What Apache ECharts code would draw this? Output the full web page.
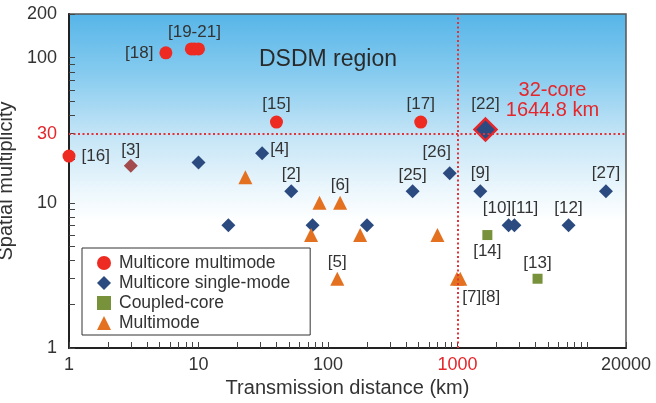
<!DOCTYPE html>
<html>
<head>
<meta charset="utf-8">
<script src="https://cdn.jsdelivr.net/npm/echarts@6/dist/echarts.min.js"></script>
<style>
  html, body { margin: 0; padding: 0; background: #fff; }
  #chart { width: 656px; height: 403px; }
</style>
</head>
<body>
<div id="chart"></div>
<script>
// [distance km, spatial multiplicity, reference]
const multicoreMultimode = [
  [1, 21, '[16]'],
  [5.6, 108, '[18]'],
  [8.8, 115, ''],
  [9.3, 115, '[19-21]'],
  [10, 115, ''],
  [40, 36, '[15]'],
  [520, 36, '[17]']
];
const multicoreSingleMode = [
  [3, 18, '[3]'],
  [10, 19, ''],
  [31, 22, '[4]'],
  [52, 12, '[2]'],
  [17, 7, ''],
  [76, 7, ''],
  [200, 7, ''],
  [450, 12, '[25]'],
  [870, 16, '[26]'],
  [1500, 12, '[9]'],
  [14000, 12, '[27]'],
  [2480, 7, '[10][11]'],
  [2750, 7, ''],
  [7200, 7, '[12]'],
  [1644.8, 32, '[22]']
];
const coupledCore = [
  [1700, 6, '[14]'],
  [4150, 3, '[13]']
];
const multimode = [
  [23, 15, ''],
  [86, 10, ''],
  [124, 10, '[6]'],
  [74, 6, ''],
  [177, 6, ''],
  [700, 6, ''],
  [118, 3, '[5]'],
  [990, 3, ''],
  [1050, 3, '[7][8]']
];

const seriesNames = ['Multicore multimode', 'Multicore single-mode', 'Coupled-core', 'Multimode'];
const xLabelValues = [1, 10, 100, 1000, 20000];
const yLabelValues = [1, 10, 30, 100, 200];
const thresholdDistance = 1000;
const thresholdMultiplicity = 30;
const highlightRef = '[22]';

// where each reference tag sits around its marker
const labelPlacement = {
  '[16]': { position: 'right', distance: 6 },
  '[18]': { position: 'left', distance: 6 },
  '[19-21]': { position: 'top', distance: 2 },
  '[15]': { position: 'top', distance: 3 },
  '[17]': { position: 'top', distance: 3 },
  '[22]': { position: 'top', distance: 4 },
  '[3]': { position: 'top', distance: 0 },
  '[4]': { position: 'right', distance: 1, offset: [0, -4] },
  '[2]': { position: 'top', distance: 2 },
  '[6]': { position: 'top', distance: 2 },
  '[25]': { position: 'top', distance: 1 },
  '[26]': { position: 'top', distance: 5, offset: [-13, 0] },
  '[9]': { position: 'top', distance: 3 },
  '[27]': { position: 'top', distance: 3 },
  '[10][11]': { position: 'top', distance: 2, offset: [2, 0] },
  '[12]': { position: 'top', distance: 2 },
  '[14]': { position: 'bottom', distance: 3 },
  '[13]': { position: 'top', distance: 2 },
  '[5]': { position: 'top', distance: 1 },
  '[7][8]': { position: 'bottom', distance: 3, offset: [21, 0] }
};

const pointStyle = {
  '[3]': { color: '#a24a4c' },
  '[22]': { symbolSize: 22, borderColor: '#e5262b', borderWidth: 2.5 }
};

const FONT = '"Liberation Sans", Arial, Helvetica, sans-serif';
const TEXT = '#333';
const RED = '#e5262b';

function toData(rows) {
  return rows.map(([x, y, ref]) => {
    const item = { value: [x, y], name: ref };
    const place = labelPlacement[ref];
    item.label = place ? Object.assign({ show: true }, place) : { show: false };
    const st = pointStyle[ref];
    if (st) {
      if (st.symbolSize) item.symbolSize = st.symbolSize;
      item.itemStyle = {};
      if (st.color) item.itemStyle.color = st.color;
      if (st.borderColor) {
        item.itemStyle.borderColor = st.borderColor;
        item.itemStyle.borderWidth = st.borderWidth;
      }
      item.z = 5;
    }
    return item;
  });
}

// log ticks at 1..9 of every decade inside the range
function logTicks(max) {
  const out = [];
  for (let d = 1; d <= max; d *= 10) {
    for (let m = 1; m <= 9; m++) {
      const v = m * d;
      if (v <= max) out.push(v);
    }
  }
  return out;
}

const labelStyle = {
  color: TEXT,
  fontSize: 17,
  fontFamily: FONT,
  formatter: p => p.name
};

const highlight = multicoreSingleMode.find(r => r[2] === highlightRef);

const chart = echarts.init(document.getElementById('chart'), null, { renderer: 'canvas' });

chart.setOption({
  animation: false,
  backgroundColor: '#fff',
  textStyle: { fontFamily: FONT },
  grid: {
    left: 69, right: 30, top: 14, bottom: 55,
    outerBoundsMode: 'none',
    containLabel: false,
    show: true,
    borderColor: '#555',
    borderWidth: 1.5,
    backgroundColor: {
      type: 'linear', x: 0, y: 0, x2: 0, y2: 1,
      colorStops: [
        { offset: 0, color: '#56b5e8' },
        { offset: 0.18, color: '#86cbef' },
        { offset: 0.36, color: '#c3e4f6' },
        { offset: 0.52, color: '#eaf6fc' },
        { offset: 0.62, color: '#ffffff' },
        { offset: 1, color: '#ffffff' }
      ]
    }
  },
  xAxis: {
    type: 'log', logBase: 10, min: 1, max: 20000,
    name: 'Transmission distance (km)',
    nameLocation: 'middle', nameGap: 30,
    nameTextStyle: { fontSize: 20, color: TEXT, fontFamily: FONT },
    axisLine: { lineStyle: { color: '#222', width: 2 } },
    axisTick: { inside: true, length: 6, customValues: logTicks(20000), lineStyle: { color: '#444', width: 1 } },
    minorTick: { show: false },
    splitLine: { show: false },
    axisLabel: {
      customValues: xLabelValues,
      margin: 8,
      fontSize: 18,
      color: TEXT,
      fontFamily: FONT,
      formatter: v => {
        const n = Math.round(v);
        return n === thresholdDistance ? '{r|' + n + '}' : String(n);
      },
      rich: { r: { color: RED, fontSize: 18, fontFamily: FONT } }
    }
  },
  yAxis: {
    type: 'log', logBase: 10, min: 1, max: 200,
    name: 'Spatial multiplicity',
    nameLocation: 'middle', nameGap: 41,
    nameTextStyle: { fontSize: 20, color: TEXT, fontFamily: FONT },
    axisLine: { lineStyle: { color: '#222', width: 2 } },
    axisTick: { inside: true, length: 6, customValues: logTicks(200), lineStyle: { color: '#444', width: 1 } },
    splitLine: { show: false },
    axisLabel: {
      customValues: yLabelValues,
      margin: 12,
      fontSize: 18,
      color: TEXT,
      fontFamily: FONT,
      formatter: v => {
        const n = Math.round(v);
        return n === thresholdMultiplicity ? '{r|' + n + '}' : String(n);
      },
      rich: { r: { color: RED, fontSize: 18, fontFamily: FONT } }
    }
  },
  legend: {
    data: [
      { name: seriesNames[0], icon: 'circle' },
      { name: seriesNames[1], icon: 'diamond' },
      { name: seriesNames[2], icon: 'rect' },
      { name: seriesNames[3], icon: 'triangle' }
    ],
    orient: 'vertical',
    left: 82, top: 248,
    padding: [6, 20, 3, 15],
    itemGap: 2,
    itemWidth: 14, itemHeight: 14,
    backgroundColor: '#fff',
    borderColor: '#333',
    borderWidth: 1,
    borderRadius: 0,
    textStyle: { fontSize: 17.5, color: TEXT, fontFamily: FONT, padding: [0, 0, 0, 3] }
  },
  graphic: [
    {
      type: 'text', x: 328, y: 60, z: 10,
      style: {
        text: 'DSDM region',
        fontSize: 23, fontFamily: FONT, fill: '#2a2a2a',
        align: 'center', verticalAlign: 'middle'
      }
    }
  ],
  series: [
    {
      // threshold guides at 1000 km and 30 multiplicity
      type: 'scatter', name: 'thresholds', data: [], z: 1,
      markLine: {
        silent: true, symbol: 'none',
        label: { show: false },
        lineStyle: { color: '#e0343a', width: 2, type: [2, 2.5] },
        data: [{ xAxis: thresholdDistance }, { yAxis: thresholdMultiplicity }]
      }
    },
    {
      name: seriesNames[0], type: 'scatter', symbol: 'circle', symbolSize: 13, z: 3,
      itemStyle: { color: '#ee2b22', opacity: 1 },
      label: labelStyle,
      data: toData(multicoreMultimode)
    },
    {
      name: seriesNames[1], type: 'scatter', symbol: 'diamond', symbolSize: 14, z: 3,
      itemStyle: { color: '#2b4b80', opacity: 1 },
      label: labelStyle,
      data: toData(multicoreSingleMode),
      markPoint: {
        symbol: 'circle', symbolSize: 0,
        data: [{
          coord: [highlight[0], highlight[1]],
          label: {
            show: true,
            position: 'inside',
            offset: [67, -29],
            formatter: highlight[1] + '-core\n' + highlight[0] + ' km',
            color: RED, fontSize: 20, lineHeight: 20, fontFamily: FONT, align: 'center'
          }
        }]
      }
    },
    {
      name: seriesNames[2], type: 'scatter', symbol: 'rect', symbolSize: 10, z: 3,
      itemStyle: { color: '#77923a', opacity: 1 },
      label: labelStyle,
      data: toData(coupledCore)
    },
    {
      name: seriesNames[3], type: 'scatter', symbol: 'triangle', symbolSize: 14, z: 3,
      itemStyle: { color: '#e4711f', opacity: 1 },
      label: labelStyle,
      data: toData(multimode)
    }
  ]
});
</script>
</body>
</html>
